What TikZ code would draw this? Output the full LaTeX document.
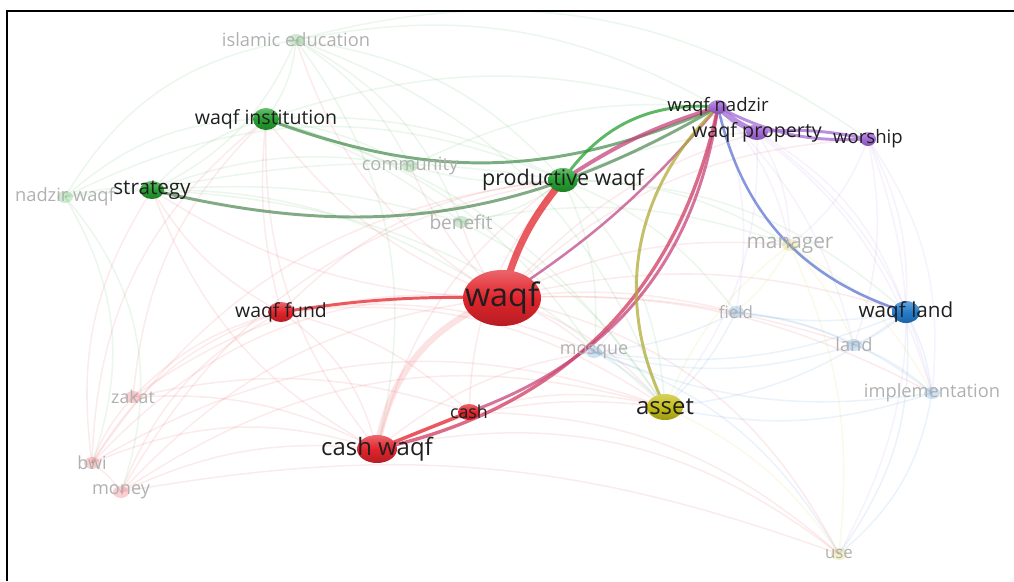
\documentclass[tikz,border=0pt]{standalone}
\usepackage{fontspec}
\setmainfont{Open Sans}
\usetikzlibrary{shapes.geometric,backgrounds}
\definecolor{vred}{RGB}{226,36,44}
\definecolor{vgreen}{RGB}{38,160,48}
\definecolor{vpurple}{RGB}{163,106,214}
\definecolor{vblue}{RGB}{36,124,204}
\definecolor{vyellow}{RGB}{196,190,24}
\definecolor{vgrey}{RGB}{150,150,150}
\newcommand{\fsz}[1]{\fontsize{#1}{#1}\selectfont}
\tikzset{
  bubble/.style={ellipse, inner sep=0pt, top color=#1!70!white, bottom color=#1!80!black, middle color=#1},
  ghost/.style={ellipse, inner sep=0pt, fill=#1, fill opacity=0.22, minimum width=0.4cm, minimum height=0.3cm},
  term/.style={inner sep=0pt, text=black!88, font=\fsz{#1}},
  faintterm/.style={inner sep=0pt, text=vgrey!75, font=\fsz{#1}},
  link/.style={line width=#1, draw opacity=0.75},
  faintlink/.style={line width=1.1pt, draw opacity=0.09}
}
\begin{document}
\begin{tikzpicture}[x=0.025cm, y=-0.025cm]
\useasboundingbox (0,0) rectangle (1014,581);
%frame
\draw[line width=2pt] (7,581) -- (7,11) -- (1014,11);

%keyword bubbles
\node[bubble=vred, minimum width=1.95cm, minimum height=1.4cm] (waqf) at (502,298) {};
\node[bubble=vred, minimum width=1.0cm, minimum height=0.7cm] (cashwaqf) at (377,449) {};
\node[bubble=vred, minimum width=0.65cm, minimum height=0.5cm] (fund) at (281,312) {};
\node[bubble=vred, minimum width=0.55cm, minimum height=0.4cm] (cash) at (469,412) {};
\node[bubble=vgreen, minimum width=0.75cm, minimum height=0.6cm] (prod) at (563,180) {};
\node[bubble=vgreen, minimum width=0.65cm, minimum height=0.55cm] (inst) at (266,119) {};
\node[bubble=vgreen, minimum width=0.6cm, minimum height=0.45cm] (strat) at (152,190) {};
\node[bubble=vpurple, minimum width=0.45cm, minimum height=0.35cm] (nadzir) at (718,107) {};
\node[bubble=vpurple, minimum width=0.55cm, minimum height=0.4cm] (property) at (757,132) {};
\node[bubble=vpurple, minimum width=0.4cm, minimum height=0.35cm] (worship) at (868,139) {};
\node[bubble=vblue, minimum width=0.7cm, minimum height=0.55cm] (wland) at (906,312) {};
\node[bubble=vyellow, minimum width=0.9cm, minimum height=0.65cm] (asset) at (665,407) {};
%faint bubbles
\node[ghost=vgreen] (nwaqf) at (65,197) {};
\node[ghost=vgreen] (islamic) at (296,40) {};
\node[ghost=vgreen] (community) at (410,166) {};
\node[ghost=vgreen] (benefit) at (461,222) {};
\node[ghost=vyellow] (manager) at (790,245) {};
\node[ghost=vyellow] (use) at (839,554) {};
\node[ghost=vblue] (field) at (736,312) {};
\node[ghost=vblue] (land) at (854,345) {};
\node[ghost=vblue] (impl) at (932,393) {};
\node[ghost=vblue] (mosque) at (594,352) {};
\node[ghost=vred] (zakat) at (133,397) {};
\node[ghost=vred] (bwi) at (92,463) {};
\node[ghost=vred] (money) at (121,492) {};

%labels
\node[term=23] (waqf-l) at (waqf) {waqf};
\node[term=17] (cashwaqf-l) at (cashwaqf) {cash waqf};
\node[term=17] (asset-l) at (asset) {asset};
\node[term=15.3] (prod-l) at (prod) {productive waqf};
\node[term=13.9] (inst-l) at (inst) {waqf institution};
\node[term=14.7] (strat-l) at (strat) {strategy};
\node[term=13.8] (fund-l) at (fund) {waqf fund};
\node[term=12.7] (cash-l) at (cash) {cash};
\node[term=13.2] (nadzir-l) at (nadzir) {waqf nadzir};
\node[term=14] (property-l) at (property) {waqf property};
\node[term=13.2] (worship-l) at (worship) {worship};
\node[term=14.7] (wland-l) at (wland) {waqf land};
\node[faintterm=13] (nwaqf-l) at (nwaqf) {nadzir waqf};
\node[faintterm=13] (islamic-l) at (islamic) {islamic education};
\node[faintterm=13] (community-l) at (community) {community};
\node[faintterm=13.6] (benefit-l) at (benefit) {benefit};
\node[faintterm=14.8] (manager-l) at (manager) {manager};
\node[faintterm=12] (use-l) at (use) {use};
\node[faintterm=12] (field-l) at (field) {field};
\node[faintterm=13] (land-l) at (land) {land};
\node[faintterm=13] (impl-l) at (impl) {implementation};
\node[faintterm=12.8] (mosque-l) at (mosque) {mosque};
\node[faintterm=12.6] (zakat-l) at (zakat) {zakat};
\node[faintterm=12.8] (bwi-l) at (bwi) {bwi};
\node[faintterm=12.9] (money-l) at (money) {money};

\begin{scope}[on background layer]
%faint co-occurrence links
\foreach \a/\b/\k/\c in {
  bwi/waqf/25/vred, bwi/cashwaqf/20/vred, bwi/fund/20/vred, bwi/strat/20/vred, bwi/inst/25/vred,
  bwi/prod/25/vred, bwi/asset/25/vred, bwi/zakat/10/vred, bwi/money/10/vred,
  money/cashwaqf/15/vred, money/waqf/20/vred, money/fund/20/vred, money/asset/25/vred,
  money/use/15/vred, money/prod/25/vred,
  zakat/fund/15/vred, zakat/waqf/20/vred, zakat/cashwaqf/15/vred, zakat/cash/15/vred, zakat/inst/20/vred,
  fund/cashwaqf/20/vred, fund/cash/15/vred, fund/prod/20/vred, fund/strat/15/vred, fund/inst/10/vred,
  fund/asset/20/vred, fund/mosque/15/vred,
  cashwaqf/prod/20/vred, cashwaqf/asset/15/vred, cashwaqf/use/25/vred, cashwaqf/mosque/15/vred,
  cashwaqf/strat/20/vred, cashwaqf/inst/20/vred,
  waqf/asset/15/vred, waqf/mosque/10/vred, waqf/field/10/vred, waqf/wland/15/vred, waqf/use/25/vred,
  waqf/manager/15/vred, waqf/impl/15/vred, waqf/land/10/vred, waqf/strat/15/vred, waqf/inst/15/vred,
  waqf/islamic/20/vred, waqf/community/10/vred, waqf/benefit/10/vred, waqf/worship/20/vred,
  waqf/property/15/vred, cash/asset/15/vred, cash/prod/20/vred, cash/use/20/vred,
  nwaqf/strat/10/vgreen, nwaqf/inst/20/vgreen, nwaqf/bwi/25/vgreen, nwaqf/money/30/vgreen,
  nwaqf/prod/25/vgreen, nwaqf/waqf/20/vgreen, nwaqf/islamic/25/vgreen,
  islamic/inst/15/vgreen, islamic/strat/20/vgreen, islamic/prod/20/vgreen, islamic/nadzir/20/vgreen,
  islamic/worship/25/vgreen, islamic/community/15/vgreen, islamic/benefit/20/vgreen,
  islamic/cashwaqf/25/vgreen, islamic/asset/25/vgreen,
  strat/inst/15/vgreen, strat/prod/10/vgreen, strat/benefit/10/vgreen, strat/community/15/vgreen,
  strat/asset/20/vgreen, inst/prod/15/vgreen, inst/community/10/vgreen, inst/benefit/10/vgreen,
  inst/asset/20/vgreen, inst/mosque/20/vgreen, inst/property/20/vgreen,
  prod/benefit/15/vgreen, prod/community/10/vgreen, prod/asset/20/vgreen, prod/mosque/15/vgreen,
  prod/manager/15/vgreen, prod/field/15/vgreen, prod/wland/20/vgreen, prod/property/10/vgreen,
  community/nadzir/15/vgreen, benefit/asset/15/vgreen, benefit/manager/15/vgreen,
  nadzir/manager/15/vpurple, nadzir/field/15/vpurple, nadzir/land/15/vpurple, nadzir/mosque/15/vpurple,
  nadzir/impl/20/vpurple, property/wland/20/vpurple, property/manager/15/vpurple,
  property/impl/20/vpurple, property/asset/20/vpurple, worship/impl/20/vpurple,
  worship/wland/15/vpurple, worship/manager/15/vpurple, worship/use/25/vpurple, worship/land/15/vpurple,
  wland/field/10/vblue, wland/land/10/vblue, wland/impl/10/vblue, wland/mosque/15/vblue,
  wland/asset/15/vblue, wland/manager/10/vblue, wland/use/20/vblue,
  field/land/10/vblue, field/impl/15/vblue, field/mosque/10/vblue, field/asset/10/vblue,
  land/impl/10/vblue, land/mosque/15/vblue, impl/mosque/15/vblue, impl/asset/15/vblue,
  impl/use/20/vblue, mosque/asset/10/vblue, mosque/use/20/vblue,
  asset/manager/15/vyellow, asset/use/15/vyellow, manager/use/15/vyellow,
  manager/impl/15/vyellow, manager/field/10/vyellow, manager/land/10/vyellow}
  \draw[faintlink, draw=\c] (\a.center) to[bend left=\k] (\b.center);

%strong links
\draw[line width=4.5pt, draw=vred, draw opacity=0.13] (cashwaqf.center) to[bend left=30] (waqf.center);
\draw[link=2.1pt, draw=vgreen!55!gray] (inst.center) to[bend right=22] (nadzir.center);
\draw[link=2.1pt, draw=vgreen!45!gray] (strat.center) to[bend right=22] (nadzir.center);
\draw[link=2.1pt, draw=vgreen] (prod.center) to[bend left=30] (nadzir.center);
\draw[link=2.8pt, draw=vred!55!vpurple] (prod.center) to[bend left=8] (nadzir.center);
\draw[link=1.8pt, draw=vred!45!vpurple] (waqf.center) to[bend right=8] (nadzir.center);
\draw[link=5pt, draw=vred] (waqf.center) to[bend left=12] (prod.center);
\draw[link=2.1pt, draw=vred] (fund.center) to[bend left=5] (waqf.center);
\draw[link=2.5pt, draw=vred] (cashwaqf.center) to (cash.center);
\draw[link=2.4pt, draw=vred!70!vpurple] (cashwaqf.center) to[bend right=33] (nadzir.center);
\draw[link=2.1pt, draw=vred!55!vpurple] (cash.center) to[bend right=31] (nadzir.center);
\draw[link=2.1pt, draw=vyellow!70!gray] (nadzir.center) to[bend right=36] (asset.center);
\draw[link=1.8pt, draw=vblue!55!vpurple] (nadzir.center) to[bend right=30] (wland.center);
\draw[link=4pt, draw=vpurple] (nadzir.center) to[bend right=10] (property.center);
\draw[link=2.1pt, draw=vpurple] (nadzir.center) to[bend right=15] (worship.center);
\draw[link=2.1pt, draw=vpurple] (property.center) to[bend left=8] (worship.center);
\end{scope}
\end{tikzpicture}
\end{document}
